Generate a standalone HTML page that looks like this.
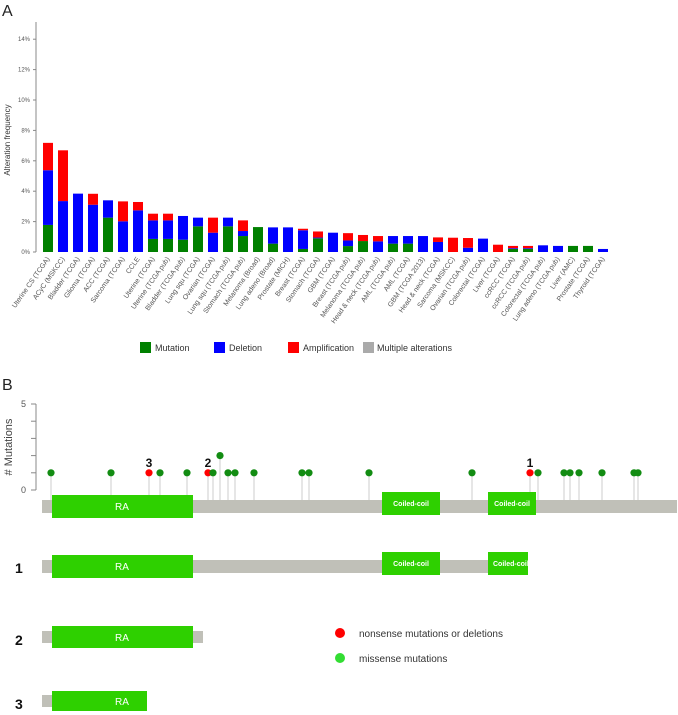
<!DOCTYPE html>
<html><head><meta charset="utf-8">
<style>
html,body{margin:0;padding:0;background:#fff;}
svg{display:block;font-family:"Liberation Sans",sans-serif;}
</style></head>
<body>
<svg id="fig" width="678" height="715" viewBox="0 0 678 715">
  <text x="2" y="16" font-size="16" fill="#222">A</text>
  <g id="chartA"></g>
  <text transform="translate(10,140) rotate(-90)" text-anchor="middle" font-size="8" fill="#333">Alteration frequency</text>
  <g>
    <g><rect x="140" y="342" width="11" height="11" fill="#008000"/><text x="155" y="351" font-size="9" fill="#333">Mutation</text></g>
    <g><rect x="214" y="342" width="11" height="11" fill="#0000ff"/><text x="229" y="351" font-size="9" fill="#333">Deletion</text></g>
    <g><rect x="288" y="342" width="11" height="11" fill="#ff0000"/><text x="303" y="351" font-size="9" fill="#333">Amplification</text></g>
    <g><rect x="363" y="342" width="11" height="11" fill="#aaaaaa"/><text x="377" y="351" font-size="9" fill="#333">Multiple alterations</text></g>
  </g>

  <text x="2" y="390" font-size="16" fill="#222">B</text>
  <g id="chartB"></g>
  <text transform="translate(12,447) rotate(-90)" text-anchor="middle" font-size="11" fill="#444"># Mutations</text>

  <g>
    <text x="15" y="573" font-size="14" font-weight="bold" fill="#111">1</text>
    <rect x="42" y="560" width="486" height="13" fill="#c0c0b8"/>
    <rect x="52" y="555" width="141" height="23" fill="#2ed000"/>
    <text x="122" y="570" text-anchor="middle" font-size="10" fill="#fff">RA</text>
    <rect x="382" y="552" width="58" height="23" fill="#2ed000"/>
    <text x="411" y="566" text-anchor="middle" font-size="7" font-weight="bold" fill="#fff">Coiled-coil</text>
    <svg x="488" y="552" width="40" height="23" overflow="hidden"><rect x="0" y="0" width="40" height="23" fill="#2ed000"/><text x="5" y="14" font-size="7" font-weight="bold" fill="#fff">Coiled-coil</text></svg>
  </g>
  <g>
    <text x="15" y="645" font-size="14" font-weight="bold" fill="#111">2</text>
    <rect x="42" y="631" width="161" height="12" fill="#c0c0b8"/>
    <rect x="52" y="626" width="141" height="22" fill="#2ed000"/>
    <text x="122" y="641" text-anchor="middle" font-size="10" fill="#fff">RA</text>
  </g>
  <g>
    <text x="15" y="709" font-size="14" font-weight="bold" fill="#111">3</text>
    <rect x="42" y="695" width="12" height="12" fill="#c0c0b8"/>
    <rect x="52" y="691" width="95" height="20" fill="#2ed000"/>
    <text x="122" y="705" text-anchor="middle" font-size="10" fill="#fff">RA</text>
  </g>
  <g>
    <circle cx="340" cy="633" r="5" fill="#ff0000"/>
    <text x="359" y="637" font-size="10" fill="#333">nonsense mutations or deletions</text>
    <circle cx="340" cy="658" r="5" fill="#33dd33"/>
    <text x="359" y="662" font-size="10" fill="#333">missense mutations</text>
  </g>
</svg>
<script>
const categories = ["Uterine CS (TCGA)","ACyC (MSKCC)","Bladder (TCGA)","Glioma (TCGA)","ACC (TCGA)","Sarcoma (TCGA)","CCLE","Uterine (TCGA)","Uterine (TCGA pub)","Bladder (TCGA pub)","Lung squ (TCGA)","Ovarian (TCGA)","Lung squ (TCGA pub)","Stomach (TCGA pub)","Melanoma (Broad)","Lung adeno (Broad)","Prostate (MICH)","Breast (TCGA)","Stomach (TCGA)","GBM (TCGA)","Breast (TCGA pub)","Melanoma (TCGA pub)","Head & neck (TCGA pub)","AML (TCGA pub)","AML (TCGA)","GBM (TCGA 2013)","Head & neck (TCGA)","Sarcoma (MSKCC)","Ovarian (TCGA pub)","Colorectal (TCGA)","Liver (TCGA)","ccRCC (TCGA)","ccRCC (TCGA pub)","Colorectal (TCGA pub)","Lung adeno (TCGA pub)","Liver (AMC)","Prostate (TCGA)","Thyroid (TCGA)"];
const mutation = [1.78,0,0,0,2.26,0,0,0.86,0.86,0.81,1.69,0,1.69,1.05,1.64,0.55,0,0.2,0.9,0,0.39,0.72,0,0.55,0.55,0,0,0,0,0,0,0.2,0.2,0,0,0.4,0.4,0];
const deletion = [3.6,3.35,3.84,3.11,1.14,2.02,2.74,1.22,1.22,1.56,0.57,1.27,0.57,0.33,0,1.07,1.62,1.23,0.05,1.27,0.37,0,0.7,0.5,0.5,1.05,0.66,0,0.28,0.88,0,0.05,0.05,0.44,0.4,0,0,0.2];
const amplification = [1.8,3.34,0,0.72,0,1.31,0.55,0.44,0.44,0,0,0.99,0,0.7,0,0,0,0.1,0.4,0,0.48,0.4,0.35,0,0,0,0.3,0.94,0.64,0,0.48,0.15,0.15,0,0,0,0,0];
const yTicks = [0,2,4,6,8,10,12,14];

const mutPositions = [51,111,149,160,187,208,213,220,228,235,254,302,309,369,472,530,538,564,570,579,602,634,638];
const mutCounts =    [1,1,1,1,1,1,1,2,1,1,1,1,1,1,1,1,1,1,1,1,1,1,1];
const mutTypes =     ["m","m","n","m","m","n","m","m","m","m","m","m","m","m","m","n","m","m","m","m","m","m","m"];
const mutLabels =    ["","","3","","","2","","","","","","","","","","1","","","","","","",""];
const mTicks = [0,1,2,3,4,5];

const NS = "http://www.w3.org/2000/svg";
function mk(tag, attrs, parent){ const e=document.createElementNS(NS,tag); for(const k in attrs) e.setAttribute(k,attrs[k]); parent.appendChild(e); return e; }

// Panel A
const gA = document.getElementById('chartA');
const y0 = 252, pxPerPct = 15.2, x0 = 43, step = 15.0, bw = 10;
const yA = v => y0 - v*pxPerPct;
const xA = i => x0 + i*step;
const axA = mk('line',{x1:36,y1:22,x2:36,y2:y0,stroke:'#888','stroke-width':1},gA);


yTicks.forEach(t=>{
  const tk = mk('line',{x1:33,y1:yA(t),x2:36,y2:yA(t),stroke:'#888'},gA);
  
  
  const tl = mk('text',{x:30,y:yA(t)+2,'text-anchor':'end','font-size':6,fill:'#555'},gA);
  tl.textContent = t + '%';
  
  
});
categories.forEach((c,i)=>{
  let base = 0;
  [[mutation,'#008000','mutation'],[deletion,'#0000ff','deletion'],[amplification,'#ff0000','amplification']].forEach(([arr,col,nm])=>{
    const v = arr[i];
    if(v>0){
      const r = mk('rect',{x:xA(i),y:yA(base+v),width:bw,height:v*pxPerPct,fill:col},gA);
      
      
    }
    base += v;
  });
  const cx = xA(i)+bw/2+2;
  const lb = mk('text',{x:cx,y:259,'text-anchor':'end','font-size':7,fill:'#555',transform:`rotate(-55 ${cx} 259)`},gA);
  lb.textContent = c;
  
  
});

// Panel B
const gB = document.getElementById('chartB');
const yB0 = 490, pxPerMut = 17.2;
const yB = v => yB0 - v*pxPerMut;
const axB = mk('line',{x1:36,y1:yB(5),x2:36,y2:yB0,stroke:'#888'},gB);


mTicks.forEach(t=>{
  const tk = mk('line',{x1:31,y1:yB(t),x2:36,y2:yB(t),stroke:'#888'},gB);
  
  
  if(t===0||t===5){
    const tl = mk('text',{x:26,y:yB(t)+3,'text-anchor':'end','font-size':9,fill:'#555'},gB);
    tl.textContent = t;
    
    
  }
});
const bar = mk('rect',{x:42,y:500,width:635,height:13,fill:'#c0c0b8'},gB);


mutPositions.forEach((p,i)=>{
  const st = mk('line',{x1:p,y1:yB(mutCounts[i]),x2:p,y2:500,stroke:'#cccccc','stroke-width':1},gB);
  
  
});
const ra = mk('rect',{x:52,y:495,width:141,height:23,fill:'#2ed000'},gB);


const rat = mk('text',{x:122,y:510,'text-anchor':'middle','font-size':10,fill:'#fff'},gB); rat.textContent='RA';


[[382,58],[488,48]].forEach(([x,w])=>{
  const cc = mk('rect',{x:x,y:492,width:w,height:23,fill:'#2ed000'},gB);
  
  
  const ct = mk('text',{x:x+w/2,y:506,'text-anchor':'middle','font-size':7,'font-weight':'bold',fill:'#fff'},gB); ct.textContent='Coiled-coil';
  
  
});
mutPositions.forEach((p,i)=>{
  const d = mk('circle',{cx:p,cy:yB(mutCounts[i]),r:3.6,fill:mutTypes[i]==='n'?'#ff0000':'#128c12'},gB);
  
  
  if(mutLabels[i]){
    const t = mk('text',{x:p,y:yB(mutCounts[i])-6,'text-anchor':'middle','font-size':12,'font-weight':'bold',fill:'#111'},gB);
    t.textContent = mutLabels[i];
    
    
  }
});
</script>
</body></html>
